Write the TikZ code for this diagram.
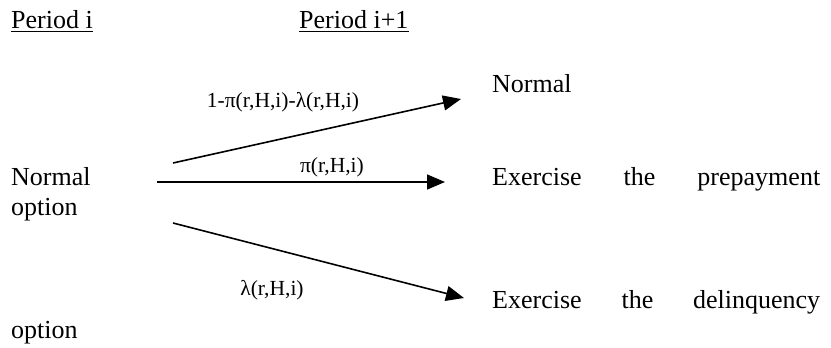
\documentclass[tikz,border=0pt]{standalone}
\usepackage{fontspec}
\setmainfont{Liberation Serif}
\usetikzlibrary{arrows.meta}
\begin{document}
\begin{tikzpicture}[x=1pt,y=-1pt,
  txt/.style={inner sep=0pt, anchor=base west, font=\fontsize{26}{30}\selectfont},
  lbl/.style={inner sep=0pt, anchor=base, font=\fontsize{21.5}{25}\selectfont},
  uline/.style={line width=1.8pt},
  arr/.style={line width=1.6pt, -{Triangle[length=18pt,width=15pt]}}]
\useasboundingbox (0,0) rectangle (831,348);
% headers
\node[txt] (pi) at (11,28) {Period i};
\node[txt] (pi1) at (299,28) {Period i+1};
\draw[uline] ([yshift=-3.5pt]pi.base west) -- ([yshift=-3.5pt]pi.base east);
\draw[uline] ([yshift=-3.5pt]pi1.base west) -- ([yshift=-3.5pt]pi1.base east);
% left state
\node[txt] (nl) at (11,185) {Normal};
\node[txt] (ol) at (11,215) {option};
% right states
\node[txt] (nr) at (492,92) {Normal};
\node[txt] (pre) at (492,185) {\hbox to 328pt{Exercise\hfill the\hfill prepayment}};
\node[txt] (del) at (492,308) {\hbox to 328pt{Exercise\hfill the\hfill delinquency}};
\node[txt] (od) at (11,338) {option};
% arrows
\coordinate (s1) at (173,163); \coordinate (t1) at (461,99);
\coordinate (s2) at (157,182); \coordinate (t2) at (445,182);
\coordinate (s3) at (173,223); \coordinate (t3) at (464,298);
\draw[arr] (s1) -- (t1);
\draw[arr] (s2) -- (t2);
\draw[arr] (s3) -- (t3);
% labels
\node[lbl] (l1) at (283,107) {1-π(r,H,i)-λ(r,H,i)};
\node[lbl] (l2) at (332,172) {π(r,H,i)};
\node[lbl] (l3) at (272,295) {λ(r,H,i)};
\end{tikzpicture}
\end{document}
